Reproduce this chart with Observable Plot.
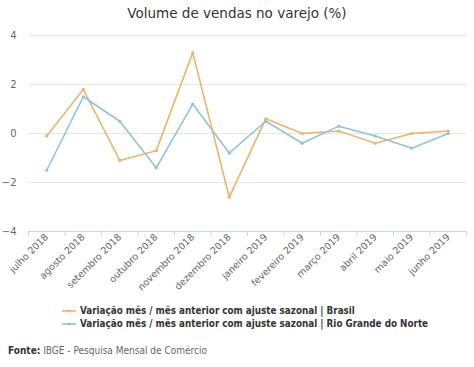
<!DOCTYPE html>
<html>
<head>
<meta charset="utf-8">
<script src="https://cdn.jsdelivr.net/npm/d3@7"></script>
<script src="https://cdn.jsdelivr.net/npm/@observablehq/plot@0.6"></script>
<style>
  html, body { margin: 0; padding: 0; background: #fff; }
  body { width: 474px; height: 367px; overflow: hidden; font-family: "DejaVu Sans", sans-serif; position: relative; }
  #title { position: absolute; left: 0; top: 5px; width: 474px; text-align: center; font-size: 13.5px; color: #333; }
  #chart { position: absolute; left: 0; top: 28px; }
  #legend { position: absolute; left: 62px; top: 304px; font-family: "DejaVu Sans Condensed", "DejaVu Sans", sans-serif; font-weight: bold; font-size: 9.8px; color: #333; line-height: 13px; }
  #legend .item { display: flex; align-items: center; white-space: nowrap; }
  #legend svg { margin-right: 3px; }
  #source { position: absolute; left: 8px; top: 345px; font-family: "DejaVu Sans Condensed", "DejaVu Sans", sans-serif; font-size: 10px; color: #666; }
  #source b { color: #333; }
</style>
</head>
<body>
<div id="title">Volume de vendas no varejo (%)</div>
<div id="chart"></div>
<div id="legend"></div>
<div id="source"><b>Fonte:</b> IBGE - Pesquisa Mensal de Comércio</div>
<script>
const months = ["julho 2018","agosto 2018","setembro 2018","outubro 2018","novembro 2018","dezembro 2018","janeiro 2019","fevereiro 2019","março 2019","abril 2019","maio 2019","junho 2019"];
const brasil = [-0.1, 1.8, -1.1, -0.7, 3.3, -2.6, 0.6, 0.0, 0.1, -0.4, 0.0, 0.1];
const rn = [-1.5, 1.5, 0.5, -1.4, 1.2, -0.8, 0.5, -0.4, 0.3, -0.1, -0.6, 0.0];
const seriesNames = ["Variação mês / mês anterior com ajuste sazonal | Brasil", "Variação mês / mês anterior com ajuste sazonal | Rio Grande do Norte"];
const colors = ["#ebb46a", "#8cc4d8"];
const yTicks = [-4, -2, 0, 2, 4];

const data = [];
months.forEach((m, i) => {
  data.push({i, month: m, value: brasil[i], series: seriesNames[0]});
  data.push({i, month: m, value: rn[i], series: seriesNames[1]});
});
const idx = months.map((_, i) => i);
const bounds = months.map((_, i) => i - 0.5).concat([months.length - 0.5]);

const chart = Plot.plot({
  width: 474,
  height: 265,
  marginLeft: 28,
  marginRight: 8,
  marginTop: 7,
  marginBottom: 62,
  style: {fontFamily: "DejaVu Sans, sans-serif", fontSize: "10px", color: "#666", background: "#fff", overflow: "visible"},
  x: {type: "linear", domain: [-0.5, months.length - 0.5]},
  y: {domain: [-4, 4]},
  color: {domain: seriesNames, range: colors},
  marks: [
    Plot.gridY(yTicks, {stroke: "#e6e6e6", strokeOpacity: 1, strokeWidth: 1}),
    Plot.ruleY([-4], {stroke: "#ccd6eb"}),
    Plot.axisY({ticks: yTicks, tickSize: 0, tickPadding: 12, fontSize: 10, fill: "#666", label: null, tickFormat: d => d < 0 ? "\u2212" + Math.abs(d) : String(d)}),
    Plot.axisX({ticks: bounds, tickSize: 5, tickFormat: () => "", stroke: "#ccd6eb", label: null}),
    Plot.axisX({ticks: idx, tickSize: 0, tickPadding: 4, tickRotate: -45, tickFormat: i => months[i], fontSize: 9.5, fill: "#666", label: null}),
    Plot.line(data, {x: "i", y: "value", z: "series", stroke: "series", strokeWidth: 1.6}),
    Plot.dot(data, {x: "i", y: "value", fill: "series", r: 1.6})
  ]
});
document.getElementById("chart").appendChild(chart);

const legend = document.getElementById("legend");
seriesNames.forEach((name, k) => {
  const item = document.createElement("div");
  item.className = "item";
  item.innerHTML = `<svg width="15" height="10"><line x1="0" y1="5" x2="14" y2="5" stroke="${colors[k]}" stroke-width="1.6"/><circle cx="7" cy="5" r="1.6" fill="${colors[k]}"/></svg><span>${name}</span>`;
  legend.appendChild(item);
});
</script>
</body>
</html>
